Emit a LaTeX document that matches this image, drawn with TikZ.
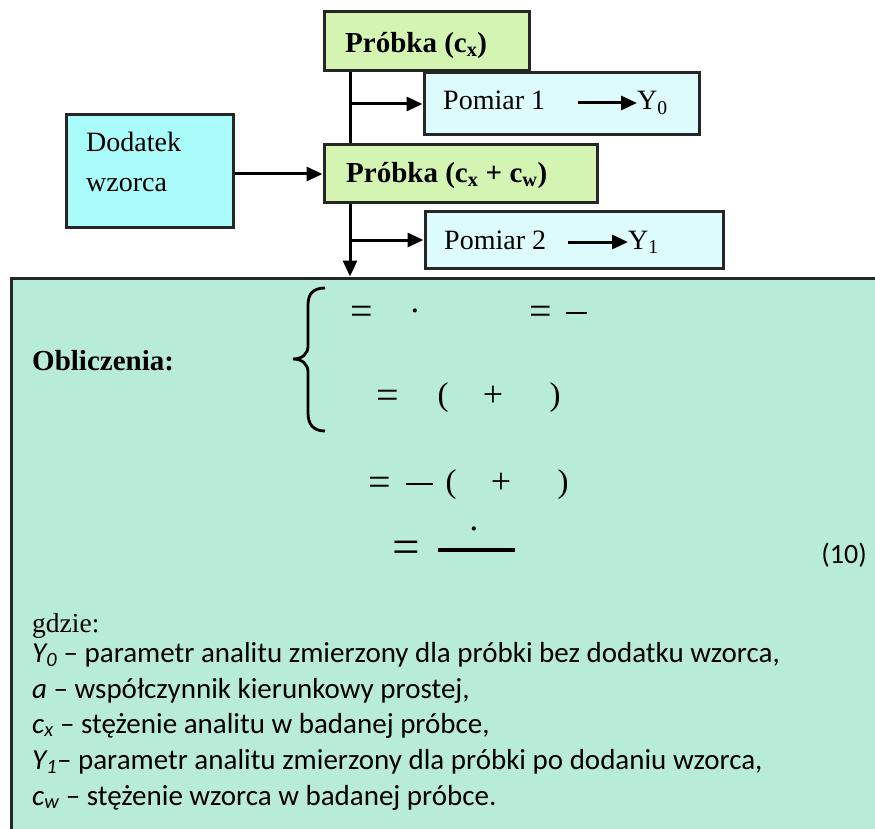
\documentclass[tikz,border=0pt]{standalone}
\usepackage{fontspec}
\setmainfont{Liberation Serif}
\newfontfamily\calibrifont{Carlito}
\usetikzlibrary{arrows.meta}
\definecolor{probkac}{HTML}{D4F5B1}
\definecolor{pomiarc}{HTML}{DDFBFB}
\definecolor{dodatekc}{HTML}{A9FCF9}
\definecolor{bigc}{HTML}{B8ECD9}
\tikzset{
  box/.style={draw=black!85, line width=3pt, rectangle, inner sep=0pt},
  txt/.style={inner sep=0pt, anchor=base west},
  reg/.style={txt, font=\fontsize{28}{34}\selectfont},
  bld/.style={txt, font=\bfseries\fontsize{29}{34}\selectfont},
  leg/.style={txt, font=\calibrifont\fontsize{29}{34}\selectfont},
  arr/.style={line width=3pt, -{Triangle[length=16pt,width=14pt]}},
  eqs/.style={inner sep=0pt, anchor=base, font=\fontsize{40}{44}\selectfont},
  pls/.style={inner sep=0pt, anchor=base, font=\fontsize{36}{40}\selectfont},
  par/.style={inner sep=0pt, anchor=base, font=\fontsize{33}{38}\selectfont},
  dts/.style={inner sep=0pt, anchor=base, font=\fontsize{35}{40}\selectfont},
  bigeq/.style={inner sep=0pt, anchor=base, font=\fontsize{49}{54}\selectfont},
  bar/.style={line width=2.4pt},
}
\begin{document}
\begin{tikzpicture}[x=1pt,y=-1pt]
\useasboundingbox (0,0) rectangle (875,829);
\clip (0,0) rectangle (875,829);
% boxes
\node[box, fill=bigc, line width=3pt, minimum width=880pt, minimum height=570pt] (big) at (451,563) {};
\node[box, fill=probkac, minimum width=205pt, minimum height=59pt] (pb1) at (426.5,41.5) {};
\node[box, fill=pomiarc, minimum width=275pt, minimum height=62pt] (pm1) at (561.5,104) {};
\node[box, fill=dodatekc, minimum width=167pt, minimum height=112pt] (dw) at (149.5,171) {};
\node[box, fill=probkac, minimum width=273pt, minimum height=58pt] (pb2) at (460.5,174) {};
\node[box, fill=pomiarc, minimum width=298pt, minimum height=56pt] (pm2) at (574,240) {};
% box texts
\node[bld] (pb1t) at (345,53) {Próbka (c\textsubscript{x})};
\node[reg] (pm1t) at (443,110) {Pomiar 1};
\node[reg] (y0) at (637,110) {Y\textsubscript{0}};
\node[reg] (dwt1) at (86,152) {Dodatek};
\node[reg] (dwt2) at (86,192) {wzorca};
\node[bld] (pb2t) at (346,183) {Próbka (c\textsubscript{x} + c\textsubscript{w})};
\node[reg] (pm2t) at (444,249) {Pomiar 2};
\node[reg] (y1) at (628,249) {Y\textsubscript{1}};
% connectors
\coordinate (vx) at (350,0);
\coordinate (a1s) at (578,103);
\coordinate (a2s) at (568,242);
\draw[arr] (a1s) -- (y0.west |- a1s);
\draw[arr] (a2s) -- (y1.west |- a2s);
\draw[line width=3pt] (pb1.south -| vx) -- (pb2.north -| vx);
\draw[arr] (pm1.west -| vx) -- (pm1.west);
\draw[arr] (dw.east |- pb2.west) -- (pb2.west);
\draw[arr] (pb2.south -| vx) -- (big.north -| vx);
\draw[arr] (pm2.west -| vx) -- (pm2.west);
% calculations
\node[txt, font=\bfseries\fontsize{29}{34}\selectfont] (obl) at (32,370) {Obliczenia:};
\draw[line width=2.8pt] (325,288) .. controls (313,288) and (308,294) .. (308,305) -- (308,346)
  .. controls (308,354) and (302,359) .. (293,359)
  .. controls (302,359) and (308,364) .. (308,372) -- (308,413)
  .. controls (308,424) and (313,431) .. (325,431);
% row 1
\node[eqs] (e11) at (362,324.2) {=};
\node[dts] (d11) at (415,322) {·};
\node[eqs] (e12) at (541,324.2) {=};
\coordinate (b1a) at (566,313);
\coordinate (b1b) at (587,313);
\draw[bar] (b1a) -- (b1b);
% row 2
\node[eqs] (e21) at (388,408.2) {=};
\node[par] (p21) at (443,405.25) {(};
\node[pls] (s21) at (493,406.7) {+};
\node[par] (q21) at (555,405.25) {)};
% row 3
\node[eqs] (e31) at (380,495.2) {=};
\coordinate (b3a) at (406,484);
\coordinate (b3b) at (433,484);
\draw[bar] (b3a) -- (b3b);
\node[par] (p31) at (451,492.25) {(};
\node[pls] (s31) at (501,493.7) {+};
\node[par] (q31) at (563,492.25) {)};
% row 4
\node[bigeq] (e41) at (406,563.7) {=};
\node[dts] (d41) at (474,540) {·};
\coordinate (b4a) at (438,550);
\coordinate (b4b) at (515,550);
\draw[line width=3.2pt] (b4a) -- (b4b);
\node[txt, anchor=base east, font=\calibrifont\fontsize{28}{34}\selectfont] (eqno) at (867,563) {(10)};
% legend
\node[txt, font=\fontsize{27.5}{32}\selectfont] (gdzie) at (32,632) {gdzie:};
\node[leg] (l1) at (32,662) {\textit{Y\textsubscript{0}} – parametr analitu zmierzony dla próbki bez dodatku wzorca,};
\node[leg] (l2) at (32,698) {\textit{a} – współczynnik kierunkowy prostej,};
\node[leg] (l3) at (32,733) {\textit{c\textsubscript{x}} – stężenie analitu w badanej próbce,};
\node[leg] (l4) at (32,769) {\textit{Y\textsubscript{1}}– parametr analitu zmierzony dla próbki po dodaniu wzorca,};
\node[leg] (l5) at (32,805) {\textit{c\textsubscript{w}} – stężenie wzorca w badanej próbce.};
\end{tikzpicture}
\end{document}
